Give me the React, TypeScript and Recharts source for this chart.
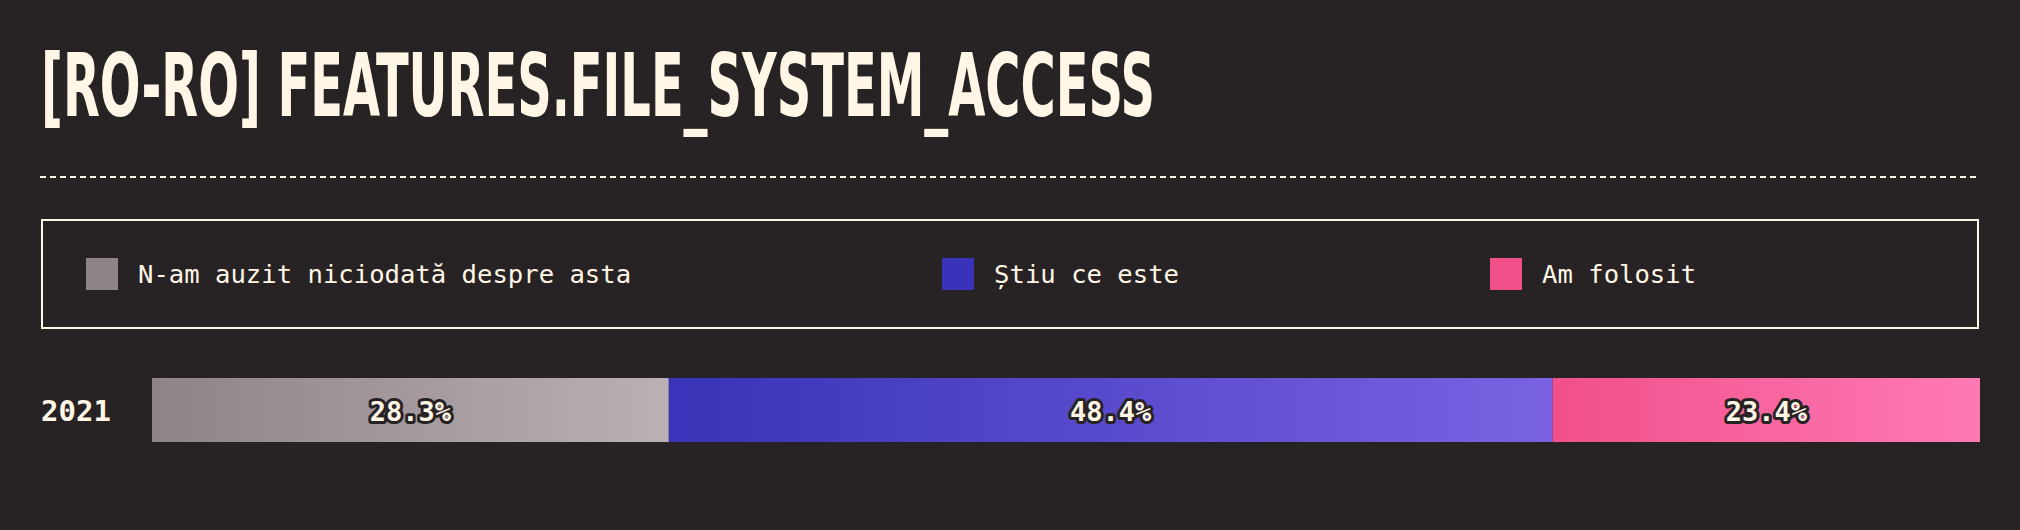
import React from "react";
import { BarChart, Bar, XAxis, YAxis, LabelList } from "recharts";

const years = ["2021"];
const seriesKeys = ["never", "know", "used"];
const seriesNames = ["N-am auzit niciodată despre asta", "Știu ce este", "Am folosit"];
const neverValues = [28.3];
const knowValues = [48.4];
const usedValues = [23.4];
const seriesColors = ["#8d8388", "#3833b8", "#f04f8a"];
const gradientEnds = ["#bbb1b4", "#7a62e2", "#ff7ab5"];

const TITLE = "[RO-RO] FEATURES.FILE_SYSTEM_ACCESS";
const BG = "#272324";
const CREAM = "#fff6e6";

const data = years.map((y, i) => ({
  year: y,
  never: neverValues[i],
  know: knowValues[i],
  used: usedValues[i],
}));

const YearTick = (props: any) => {
  const { y, payload } = props;
  return (
    <text
      x={41}
      y={y}
      dy={1}
      dominantBaseline="central"
      textAnchor="start"
      fill={CREAM}
      fontFamily="'DejaVu Sans Mono', monospace"
      fontWeight={700}
      fontSize={29}
    >
      {payload.value}
    </text>
  );
};

const SegLabel = (props: any) => {
  const { x, y, width, height, value } = props;
  return (
    <text
      x={x + width / 2}
      y={y + height / 2 + 1}
      textAnchor="middle"
      dominantBaseline="central"
      fill={CREAM}
      stroke={BG}
      strokeWidth={6}
      strokeLinejoin="round"
      style={{ paintOrder: "stroke" }}
      fontFamily="'DejaVu Sans Mono', monospace"
      fontWeight={700}
      fontSize={27}
    >
      {`${Number(value).toFixed(1)}%`}
    </text>
  );
};

export default function App() {
  return (
    <div
      style={{
        position: "relative",
        width: 2020,
        height: 530,
        background: BG,
        overflow: "hidden",
      }}
    >
      <style>{`body{margin:0;background:${BG};}`}</style>
      <svg
        width={2020}
        height={190}
        style={{ position: "absolute", left: 0, top: 0 }}
      >
        <text
          x={41}
          y={116}
          textLength={1114}
          lengthAdjust="spacingAndGlyphs"
          fill={CREAM}
          fontFamily="'Liberation Sans Narrow', 'DejaVu Sans Condensed', Roboto, sans-serif"
          fontWeight={700}
          fontSize={87}
        >
          {TITLE}
        </text>
        <line
          x1={40}
          x2={1980}
          y1={177}
          y2={177}
          stroke={CREAM}
          strokeWidth={2}
          strokeDasharray="6 4"
        />
      </svg>
      <div
        style={{
          position: "absolute",
          left: 41,
          top: 219,
          width: 1938,
          height: 110,
          boxSizing: "border-box",
          border: `2px solid ${CREAM}`,
          display: "flex",
          alignItems: "center",
          paddingLeft: 43,
          gap: 311,
        }}
      >
        {seriesNames.map((n, i) => (
          <div key={n} style={{ display: "flex", alignItems: "center" }}>
            <div
              style={{
                width: 32,
                height: 32,
                background: seriesColors[i],
                marginRight: 20,
              }}
            />
            <span
              style={{
                color: CREAM,
                fontFamily: "'DejaVu Sans Mono', monospace",
                fontSize: 25.6,
                whiteSpace: "pre",
              }}
            >
              {n}
            </span>
          </div>
        ))}
      </div>
      <div style={{ position: "absolute", left: 0, top: 350 }}>
        <BarChart
          width={2020}
          height={120}
          data={data}
          layout="vertical"
          margin={{ top: 28, bottom: 28, left: 41, right: 40 }}
          barCategoryGap={0}
        >
          <defs>
            {seriesKeys.map((k, i) => (
              <linearGradient key={k} id={`grad-${k}`} x1="0" y1="0" x2="1" y2="0">
                <stop offset="0%" stopColor={seriesColors[i]} />
                <stop offset="100%" stopColor={gradientEnds[i]} />
              </linearGradient>
            ))}
          </defs>
          <XAxis type="number" hide domain={[0, "dataMax"]} />
          <YAxis
            type="category"
            dataKey="year"
            width={111}
            axisLine={false}
            tickLine={false}
            tick={<YearTick />}
          />
          {seriesKeys.map((k, i) => (
            <Bar
              key={k}
              dataKey={k}
              name={seriesNames[i]}
              stackId="s"
              fill={`url(#grad-${k})`}
              isAnimationActive={false}
            >
              <LabelList dataKey={k} content={<SegLabel />} />
            </Bar>
          ))}
        </BarChart>
      </div>
    </div>
  );
}
